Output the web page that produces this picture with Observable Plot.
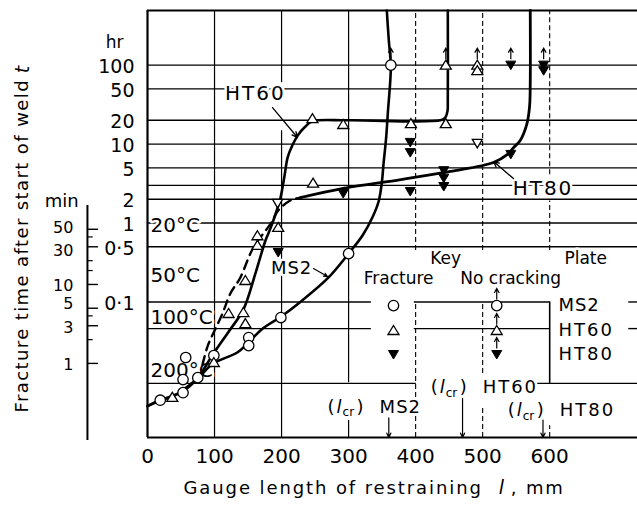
<!DOCTYPE html>
<html><head><meta charset="utf-8">
<script src="https://cdn.jsdelivr.net/npm/d3@7"></script>
<script src="https://cdn.jsdelivr.net/npm/@observablehq/plot@0.6"></script>
<style>html,body{margin:0;padding:0;background:#fff}svg{display:block}</style>
</head><body><div id="chart"></div>
<script>
// ---------------- data: x = gauge length (mm), t = fracture time (hours) ----------------
const xTicks = [0, 100, 200, 300, 400, 500, 600];
const hrTicks = [100, 50, 20, 10, 5, 2, 1, 0.5, 0.1];
const hrTickLabels = ["100", "50", "20", "10", "5", "2", "1", "0·5", "0·1"];
const minTicks = [50, 30, 10, 5, 3, 1];
const minMinorTicks = [40, 20, 15, 4, 2];
const tempLabels = ["20°C", "50°C", "100°C", "200°C"];
const tempTimes = [0.93, 0.216, 0.0635, 0.0135];

const hGrid = [100, 50, 20, 10, 5, 3, 2, 1, 0.5];
const hGridBroken = [[0.1, 0, 334], [0.1, 398, 601], [0.1, 718, 731], [0.046, 0, 334], [0.046, 398, 601], [0.046, 718, 731], [0.0093, 0, 401], [0.0093, 582, 731]];
const vGridSolid = [[100, 0.00192, 492], [200, 0.00192, 14.8], [200, 60, 492], [300, 0.0095, 492], [300, 0.00192, 0.00316]];
const vGridDashed = [[400, 0.00192, 0.1], [400, 0.45, 492], [500, 0.0124, 0.1], [500, 0.00192, 0.0049], [500, 0.45, 492], [600, 0.00192, 0.0027], [600, 0.45, 1.9], [600, 4.1, 492]];
const keyBracket = [[600, 0.0093, 0.1]];

// curves
const ms2Curve = [[0,0.0048],[19,0.0057],[54,0.0075],[75,0.0107],[98,0.0166],[134,0.0229],[151,0.031],[172,0.046],[198,0.064],[228,0.10],[269,0.20],[300,0.41],[321,0.70],[336,1.2],[345,1.9],[350,3.5],[352,5.5],[356,12],[359,28],[362,60],[363,100],[360,205],[357,492]];
const ht60Curve = [[0,0.0048],[19,0.0057],[37,0.0063],[54,0.0078],[75,0.011],[98,0.022],[121,0.042],[143,0.080],[161,0.23],[176,0.60],[184,0.88],[194,1.55],[198.5,2.1],[204.5,4.0],[209,6.75],[216,9.6],[224,12.8],[234,16.2],[246,19.4],[300,20],[437,20],[444,21.5],[447.5,26],[448,35],[448,492]];
const ht80DashedCurve = [[82,0.016],[90,0.028],[101,0.045],[112,0.072],[124,0.13],[138,0.20],[158,0.49],[184,0.99],[195,1.44],[213,1.93],[228,2.1]];
const ht80Curve = [[228,2.1],[292,2.75],[378,3.55],[452,4.5],[516,5.84],[537,7.4],[546,9.0],[556,11.1],[566,18],[570,30],[571,60],[571,492]];

// markers
const ms2Fracture = [[19,0.0057],[53,0.0071],[53,0.0104],[57,0.0198],[75,0.0110],[99,0.021],[151,0.0354],[151,0.028],[199,0.0635],[300,0.41]];
const ms2NoCrack = [[363,100]];
const ht60Fracture = [[37,0.0062],[99,0.0171],[121,0.0714],[143,0.0735],[146,0.0533],[146,0.187],[164,0.52],[164,0.69],[195,0.88],[247,3.2],[246,21],[292,17.7],[393,18.2],[445,18.2]];
const ht60NoCrack = [[445,100],[492,100],[492,85]];
const openDown = [[194,1.77],[492,10.2]];
const ht80Fracture = [[195,0.423],[292,2.36],[392,2.51],[442,4.6],[442,3.7],[442,2.9],[392,10.5],[392,7.8],[542,7.4]];
const ht80NoCrack = [[542,100],[591,100],[591,85]];

// key
const keyPlates = ["MS2", "HT60", "HT80"];
const keyTimes = [0.090, 0.0435, 0.0216];
const keyFractureX = 367, keyNoCrackX = 521, keyLabelX = 613;

// critical gauge lengths
const lcrPlates = ["MS2", "HT60", "HT80"];
const lcrValues = [360, 470, 590];
const lcrLabelX = [268.7, 422.4, 537.3];
const lcrLabelT = [0.0046, 0.0082, 0.0042];
const lcrArrowTop = [0.0034, 0.0060, 0.0032];

// curve labels
const curveLabels = [["HT60", 161, 43.7], ["HT80", 590, 2.74]];
const curveLabelArrows = [[186.5, 29, 223.8, 12.1], [546, 3.66, 516.2, 6.0]];
const ms2Label = [["MS2", 215, 0.265]];
const ms2LabelArrow = [[247.7, 0.265, 268.5, 0.21]];

// ---------------- symbols ----------------
const symTriUp = {draw(c) { c.moveTo(0, -5); c.lineTo(5.5, 4); c.lineTo(-5.5, 4); c.closePath(); }};
const symTriDown = {draw(c) { c.moveTo(0, 4.5); c.lineTo(5, -4); c.lineTo(-5, -4); c.closePath(); }};
const symArrowUp = {draw(c) { c.moveTo(0, -6); c.lineTo(0, -17); c.moveTo(-2.5, -12.5); c.lineTo(0, -17); c.lineTo(2.5, -12.5); }};
const tops = arr => Array.from(d3.rollup(arr, v => d3.max(v, d => d[1]), d => d[0]), ([x, t]) => [x, t]);

const yMin = 0.00192, yMax = 492, xMax = 731;
const X = d => d[0], T = d => d[1];
const lineBase = {stroke: "black", strokeWidth: 1.4};
const halo = {stroke: "white", strokeWidth: 5, fill: "black"};
const minLabelStyle = {x: -89.6, y: d => d / 60, text: d => String(d), dx: -14, textAnchor: "end", fontSize: 16};

const keyData = keyPlates.map((p, i) => ({p, t: keyTimes[i]}));
const lcrData = lcrPlates.map((p, i) => ({p, l: lcrValues[i], x: lcrLabelX[i], t: lcrLabelT[i], top: lcrArrowTop[i]}));

const yTitle = "Fracture time after start of weld";
const xTitle = "Gauge length of restraining";

const chart = Plot.plot({
  width: 637, height: 512,
  marginLeft: 147, marginRight: 0, marginTop: 10, marginBottom: 75,
  x: {domain: [0, xMax], axis: null},
  y: {type: "log", domain: [yMin, yMax], axis: null},
  style: {fontFamily: "DejaVu Sans", color: "black", background: "white", overflow: "visible"},
  marks: [
    // grid
    Plot.ruleY(hGrid, {y: d => d, x1: 0, x2: xMax, ...lineBase}),
    Plot.ruleY(hGridBroken, {y: d => d[0], x1: d => d[1], x2: d => d[2], ...lineBase}),
    Plot.ruleX(vGridSolid, {x: d => d[0], y1: d => d[1], y2: d => d[2], stroke: "black", strokeWidth: 1.2}),
    Plot.ruleX(vGridDashed, {x: d => d[0], y1: d => d[1], y2: d => d[2], stroke: "black", strokeWidth: 1.1, strokeDasharray: "5,3"}),
    Plot.ruleX(keyBracket, {x: d => d[0], y1: d => d[1], y2: d => d[2], stroke: "black", strokeWidth: 1.6}),
    // frame
    Plot.ruleY([yMax], {x1: 0, x2: xMax, stroke: "black", strokeWidth: 2.2}),
    Plot.ruleY([yMin], {x1: 0, x2: xMax, stroke: "black", strokeWidth: 2.2}),
    Plot.ruleX([0], {y1: yMin, y2: yMax, stroke: "black", strokeWidth: 2.2}),
    // minute axis
    Plot.ruleX([-89.6], {y1: 1.67, y2: 0.00176, stroke: "black", strokeWidth: 2}),
    Plot.ruleY(minTicks, {y: d => d / 60, x1: -89.6, x2: -73, stroke: "black", strokeWidth: 1.4}),
    Plot.ruleY(minMinorTicks, {y: d => d / 60, x1: -89.6, x2: -81, stroke: "black", strokeWidth: 1.2}),
    Plot.text(minTicks.filter(d => d === 50), {...minLabelStyle, dy: -1}),
    Plot.text(minTicks.filter(d => d === 30), {...minLabelStyle, dy: 4}),
    Plot.text(minTicks.filter(d => d === 10 || d === 1), {...minLabelStyle, dy: 1}),
    Plot.text(minTicks.filter(d => d === 5), {...minLabelStyle, dy: -4}),
    Plot.text(minTicks.filter(d => d === 3), {...minLabelStyle, dy: 2}),
    Plot.text(["min"], {x: -128, y: 1.87, fontSize: 18}),
    // hour labels
    Plot.text(hrTicks, {x: 0, y: d => d, text: (d, i) => hrTickLabels[i], dx: -13, dy: 2, textAnchor: "end", fontSize: 19}),
    Plot.text(["hr"], {x: -49, y: 193, fontSize: 17}),
    // axis titles
    Plot.text([yTitle], {x: -186.6, y: 0.00398, rotate: -90, textAnchor: "start", fontSize: 18}),
    Plot.text(["t"], {x: -186.6, y: 88, rotate: -90, fontStyle: "italic", fontSize: 19}),
    Plot.text(xTicks, {x: d => d, text: d => String(d), frameAnchor: "bottom", dy: 25, fontSize: 20}),
    Plot.text([xTitle], {x: 53.7, frameAnchor: "bottom", dy: 56, textAnchor: "start", fontSize: 18}),
    Plot.text(["l"], {x: 528, frameAnchor: "bottom", dy: 56, fontStyle: "italic", fontSize: 19}),
    Plot.text([", mm"], {x: 541.8, frameAnchor: "bottom", dy: 56, textAnchor: "start", fontSize: 18}),
    // temperature labels
    Plot.text(tempLabels, {x: 4.5, y: (d, i) => tempTimes[i], text: d => d, textAnchor: "start", fontSize: 20, ...halo}),
    // key
    Plot.text(["Key"], {x: 444.8, y: 0.355, fontSize: 17, ...halo}),
    Plot.text(["Plate"], {x: 653.7, y: 0.355, fontSize: 17, ...halo}),
    Plot.text(["Fracture"], {x: 374.6, y: 0.198, fontSize: 17, ...halo}),
    Plot.text(["No cracking"], {x: 541.8, y: 0.198, fontSize: 17, ...halo}),
    Plot.text(keyData, {x: keyLabelX, y: "t", text: "p", textAnchor: "start", fontSize: 18, ...halo}),
    // l_cr annotations
    Plot.text(lcrData, {x: "x", y: "t", text: () => "(", textAnchor: "start", fontSize: 18, ...halo}),
    Plot.text(lcrData, {x: "x", y: "t", text: () => "l", dx: 9, textAnchor: "start", fontStyle: "italic", fontSize: 18, ...halo}),
    Plot.text(lcrData, {x: "x", y: "t", text: () => "cr", dx: 15, dy: 5, textAnchor: "start", fontSize: 12, ...halo}),
    Plot.text(lcrData, {x: "x", y: "t", text: () => ")", dx: 29, textAnchor: "start", fontSize: 18, ...halo}),
    Plot.text(lcrData, {x: "x", y: "t", text: "p", dx: 52, textAnchor: "start", fontSize: 18, ...halo}),
    Plot.arrow(lcrData, {x1: "l", x2: "l", y1: "top", y2: yMin, stroke: "black", strokeWidth: 1.2, headLength: 6, headAngle: 50}),
    // curve labels
    Plot.text(curveLabels, {x: d => d[1], y: d => d[2], text: d => d[0], fontSize: 20, ...halo}),
    Plot.text(ms2Label, {x: d => d[1], y: d => d[2], text: d => d[0], fontSize: 18, ...halo}),
    // curves
    Plot.line(ms2Curve, {x: X, y: T, curve: "catmull-rom", stroke: "black", strokeWidth: 2.6}),
    Plot.line(ht60Curve, {x: X, y: T, curve: "catmull-rom", stroke: "black", strokeWidth: 2.6}),
    Plot.line(ht80DashedCurve, {x: X, y: T, curve: "catmull-rom", stroke: "black", strokeWidth: 2.4, strokeDasharray: "9,6"}),
    Plot.line(ht80Curve, {x: X, y: T, curve: "catmull-rom", stroke: "black", strokeWidth: 2.8}),
    Plot.arrow(curveLabelArrows, {x1: d => d[0], y1: d => d[1], x2: d => d[2], y2: d => d[3], stroke: "black", strokeWidth: 1.3, headLength: 7, headAngle: 50}),
    Plot.arrow(ms2LabelArrow, {x1: d => d[0], y1: d => d[1], x2: d => d[2], y2: d => d[3], stroke: "black", strokeWidth: 1.2, headLength: 5, headAngle: 50}),
    // markers
    Plot.dot(ms2Fracture, {x: X, y: T, r: 5.2, stroke: "black", fill: "white", strokeWidth: 1.3}),
    Plot.dot(ms2NoCrack, {x: X, y: T, r: 5.2, stroke: "black", fill: "white", strokeWidth: 1.3}),
    Plot.dot(ht60Fracture, {x: X, y: T, symbol: symTriUp, stroke: "black", fill: "white", strokeWidth: 1.3}),
    Plot.dot(ht60NoCrack, {x: X, y: T, symbol: symTriUp, stroke: "black", fill: "white", strokeWidth: 1.3}),
    Plot.dot(openDown, {x: X, y: T, symbol: symTriDown, stroke: "black", fill: "white", strokeWidth: 1.3}),
    Plot.dot(ht80Fracture, {x: X, y: T, symbol: symTriDown, stroke: "black", fill: "black", strokeWidth: 1}),
    Plot.dot(ht80NoCrack, {x: X, y: T, symbol: symTriDown, stroke: "black", fill: "black", strokeWidth: 1}),
    Plot.dot([...tops(ms2NoCrack), ...tops(ht60NoCrack), ...tops(ht80NoCrack)], {x: X, y: T, symbol: symArrowUp, stroke: "black", fill: "none", strokeWidth: 1.2}),
    // key markers
    Plot.dot(keyData.slice(0, 1), {x: keyFractureX, y: "t", r: 5.2, stroke: "black", fill: "white", strokeWidth: 1.3}),
    Plot.dot(keyData.slice(1, 2), {x: keyFractureX, y: "t", symbol: symTriUp, stroke: "black", fill: "white", strokeWidth: 1.3}),
    Plot.dot(keyData.slice(2, 3), {x: keyFractureX, y: "t", symbol: symTriDown, stroke: "black", fill: "black", strokeWidth: 1}),
    Plot.dot(keyData.slice(0, 1), {x: keyNoCrackX, y: "t", r: 5.2, stroke: "black", fill: "white", strokeWidth: 1.3}),
    Plot.dot(keyData.slice(1, 2), {x: keyNoCrackX, y: "t", symbol: symTriUp, stroke: "black", fill: "white", strokeWidth: 1.3}),
    Plot.dot(keyData.slice(2, 3), {x: keyNoCrackX, y: "t", symbol: symTriDown, stroke: "black", fill: "black", strokeWidth: 1}),
    Plot.dot(keyData, {x: keyNoCrackX, y: "t", symbol: symArrowUp, stroke: "black", fill: "none", strokeWidth: 1.2})
  ]
});
document.getElementById("chart").appendChild(chart);
const spacing = new Map([[yTitle, "1.4px"], [xTitle, "1.9px"], [", mm", "1.9px"], ["HT60", "2px"], ["HT80", "2px"], ["MS2", "1px"]]);
d3.select(chart).selectAll("text").each(function () {
  const v = spacing.get(this.textContent);
  if (v) this.style.letterSpacing = v;
});
</script>
</body></html>
